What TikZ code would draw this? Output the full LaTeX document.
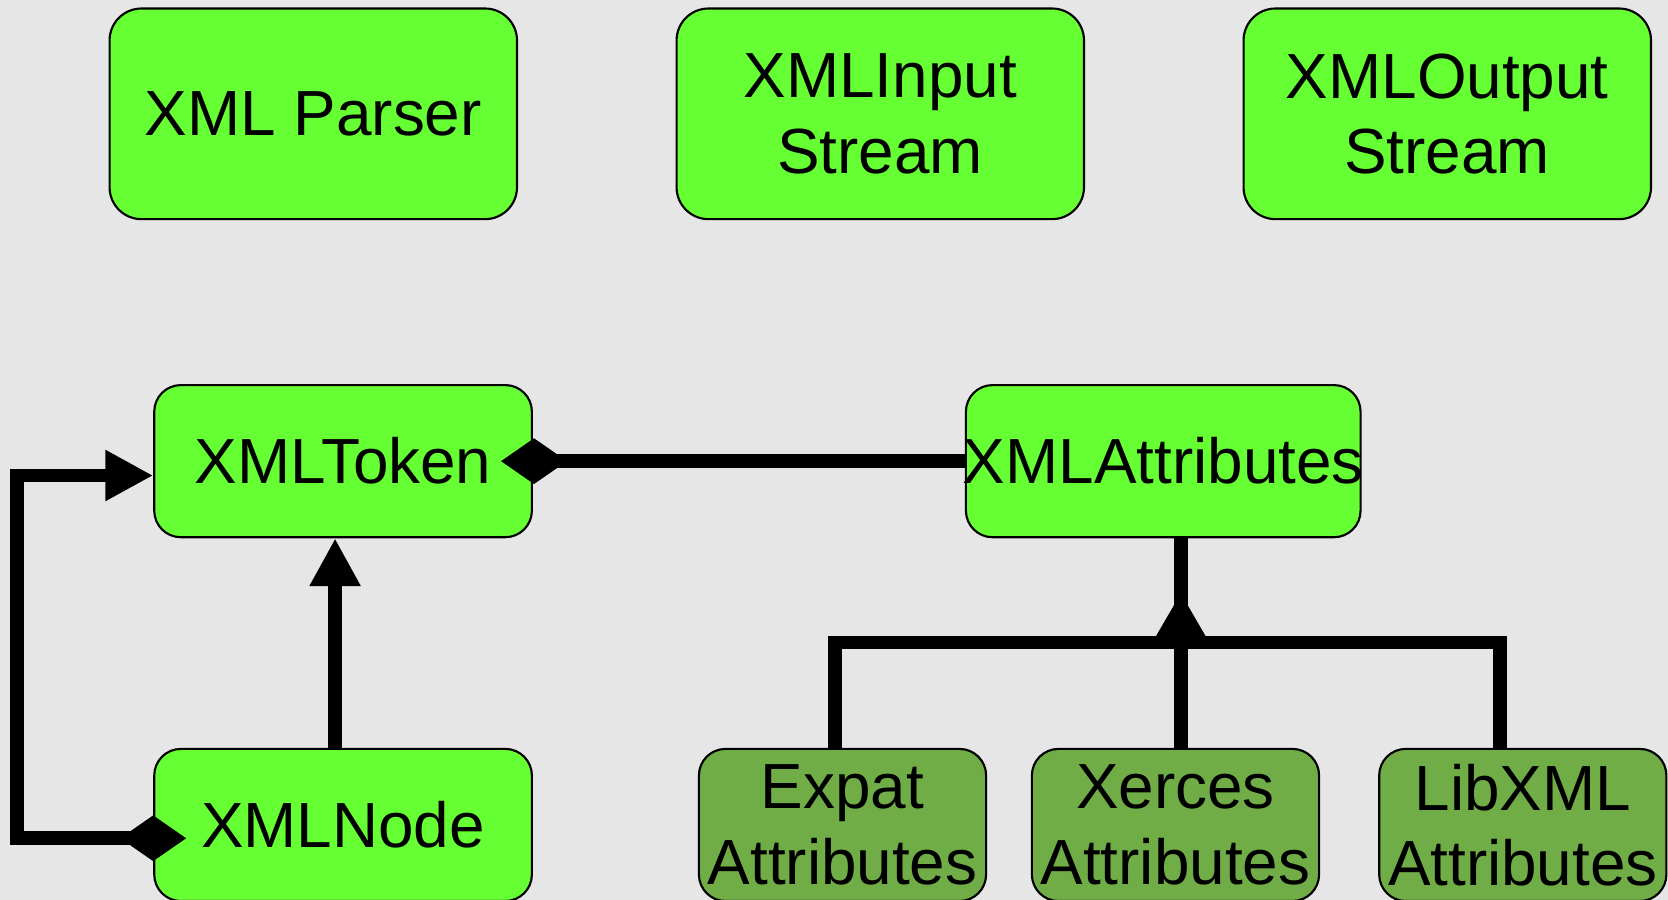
\documentclass[tikz,border=0pt]{standalone}
\usepackage{fontspec}
\setmainfont{Liberation Sans}
\usepackage{tikz}
\usetikzlibrary{positioning}
\usetikzlibrary{calc}
\usetikzlibrary{arrows.meta}
\definecolor{classgreen}{HTML}{66FF33}
\definecolor{implgreen}{HTML}{70AD47}
\definecolor{backgray}{HTML}{E6E6E6}
\tikzstyle{class box}=[draw, line width=1pt, fill=classgreen, rounded corners=12.5pt, align=center, inner sep=0pt, minimum height=71.5pt, font=\fontsize{30}{35.5}\selectfont]
\tikzstyle{top box}=[class box, rounded corners=15pt, minimum width=191.5pt, minimum height=99pt]
\tikzstyle{impl box}=[class box, fill=implgreen, minimum width=135pt]
\tikzstyle{link}=[line width=6.5pt, >={Triangle[length=22.5pt, width=22.5pt]}]
\tikzset{dia/.tip={Diamond[length=31pt, width=21.5pt]}}

\begin{document}
\begin{tikzpicture}[x=0.5pt, y=-0.5pt]
    \path [use as bounding box, fill=backgray] (0,0) rectangle (1568,846);
    \clip (0,0) rectangle (1568,846);

    \node [top box] (parser) at (294.5,107) {XML Parser};
    \node [top box] (input) at (827.5,107) {XMLInput\\Stream};
    \node [top box] (output) at (1360.5,107) {XMLOutput\\Stream};

    \node [class box, minimum width=177.5pt] (token) at (322.5,433.5) {XMLToken};
    \node [class box, minimum width=185.5pt, inner xsep=-1.6pt] (attributes) at (1093.5,433.5) {XMLAttributes};
    \node [class box, minimum width=177.5pt] (xmlnode) at (322.5,775.5) {XMLNode};

    \node [impl box] (expat) at (792,775.5) {Expat\\Attributes};
    \node [impl box] (xerces) at (1105,775.5) {Xerces\\Attributes};
    \node [impl box] (libxml) at (1431.5,775.5) {LibXML\\Attributes};

    \draw [link, ->] ([xshift=-3.75pt]xmlnode.north) -- ([xshift=-3.75pt]token.south);
    \draw [link, dia->, shorten <=-15.5pt] ([yshift=-6.25pt]xmlnode.west) -- ++(-128,0) |- ([yshift=-6.75pt]token.west);
    \draw [link, dia-, shorten <=-15pt] (token.east) -- (attributes.west);

    \coordinate (fork) at (1110,604);
    \coordinate (fork tip) at (1110,557);
    \draw [link] ([xshift=8.25pt]attributes.south) -- (fork);
    \draw [link, -{Triangle[length=23.5pt, width=25pt]}] (fork) -- (fork tip);
    \draw [link] ([xshift=-3.5pt]expat.north) |- (fork) -| ([xshift=-10.75pt]libxml.north);
    \draw [link] (fork) -- (fork |- xerces.north);
\end{tikzpicture}
\end{document}
